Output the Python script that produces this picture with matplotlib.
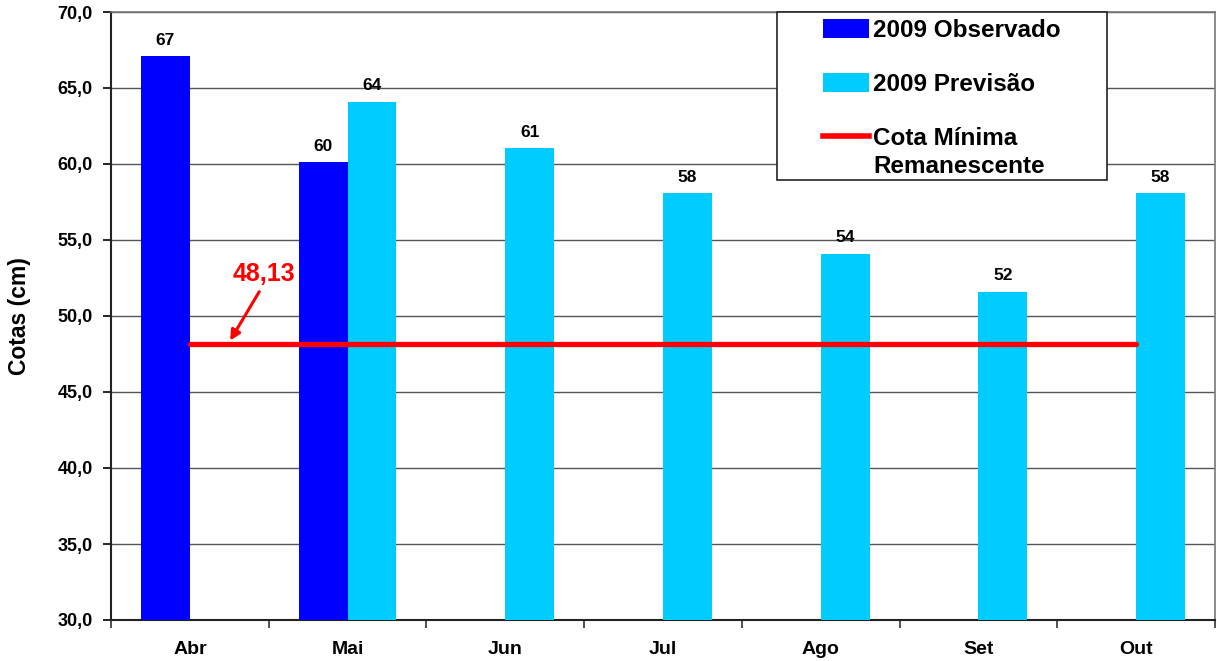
import matplotlib
matplotlib.use("Agg")
import matplotlib.pyplot as plt
from matplotlib.patches import Rectangle
from matplotlib.lines import Line2D
from matplotlib.patches import Patch

plt.rcParams['font.family'] = ['Liberation Sans', 'DejaVu Sans']
plt.rcParams['font.weight'] = 'bold'

months = ['Abr', 'Mai', 'Jun', 'Jul', 'Ago', 'Set', 'Out']
observado = [67.1, 60.1, None, None, None, None, None]
previsao = [None, 64.1, 61.05, 58.1, 54.1, 51.6, 58.1]
cota_minima = 48.13
yticks = [30, 35, 40, 45, 50, 55, 60, 65, 70]

c_obs = '#0000FF'
c_prev = '#00CCFF'
c_line = '#FF0000'

fig = plt.figure(figsize=(12.17, 6.61), dpi=100)
ax = fig.add_axes([111/1217, 1-620/661, 1104/1217, 608/661])

w = 0.31
x = list(range(len(months)))
for i in x:
    if observado[i] is not None:
        ax.bar(i - w/2, observado[i] - 30, width=w, bottom=30, color=c_obs, zorder=3)
        ax.text(i - w/2, observado[i] + 0.55, f"{observado[i]:.0f}", ha='center', va='bottom',
                fontsize=12.5, fontweight='bold')
    if previsao[i] is not None:
        ax.bar(i + w/2, previsao[i] - 30, width=w, bottom=30, color=c_prev, zorder=3)
        ax.text(i + w/2, previsao[i] + 0.55, f"{previsao[i]:.0f}", ha='center', va='bottom',
                fontsize=12.5, fontweight='bold')

ax.plot([x[0], x[-1]], [cota_minima, cota_minima], color=c_line, lw=3.8,
        solid_capstyle='round', zorder=4)

ax.text(0.47, 52.75, "48,13", ha='center', va='center', color=c_line, fontsize=18,
        fontweight='bold', zorder=5)
ax.annotate("", xy=(0.255, cota_minima + 0.25), xytext=(0.44, 51.6),
            arrowprops=dict(arrowstyle='-|>', color=c_line, lw=2.2, mutation_scale=15,
                            shrinkA=0, shrinkB=0), zorder=5)

ax.set_xlim(-0.5, len(months) - 0.5)
ax.set_ylim(30, 70)
ax.set_yticks(yticks)
ax.set_yticklabels([f"{v:.1f}".replace('.', ',') for v in yticks])
ax.yaxis.grid(True, color='#555555', lw=1, zorder=0)
ax.set_axisbelow(True)

ax.set_xticks([i - 0.5 for i in range(len(months) + 1)])
ax.set_xticklabels([])
ax.set_xticks(x, minor=True)
ax.set_xticklabels(months, minor=True)
ax.tick_params(axis='x', which='major', length=6, width=1.2, direction='out', color='#333333')
ax.tick_params(axis='x', which='minor', length=0, pad=15, labelsize=14)
ax.tick_params(axis='y', length=6, width=1.2, direction='out', labelsize=13, pad=7)

for s in ['left', 'bottom']:
    ax.spines[s].set_color('#222222')
    ax.spines[s].set_linewidth(1.5)
for s in ['top', 'right']:
    ax.spines[s].set_color('#777777')
    ax.spines[s].set_linewidth(1.2)

ax.set_ylabel("Cotas (cm)", fontsize=16.5, fontweight='bold')
ax.yaxis.set_label_coords(-0.0725, 0.5)

# legend frame
fig.patches.append(Rectangle((777/1217, 1-180/661), 330/1217, 168/661, transform=fig.transFigure,
                             facecolor='white', edgecolor='#222222', lw=1.2, zorder=10))

handles = [Patch(facecolor=c_obs), Patch(facecolor=c_prev), Line2D([], [], color=c_line, lw=4)]
labels = ['2009 Observado', '2009 Previsão', 'Cota Mínima']
leg = fig.legend(handles, labels, loc='upper left', bbox_to_anchor=(823/1217, 1-19/661),
                 bbox_transform=fig.transFigure, frameon=False, borderpad=0, borderaxespad=0,
                 prop=dict(size=17.5, weight='bold'), handlelength=1.9, handleheight=0.78,
                 handletextpad=0.16, labelspacing=1.27)
leg.set_zorder(11)

fig.canvas.draw()
t = leg.get_texts()[2]
bb = t.get_window_extent()
fig.text(bb.x0 / fig.bbox.width, (bb.y0 - 28) / fig.bbox.height, 'Remanescente',
         fontsize=17.5, fontweight='bold', ha='left', va='bottom', zorder=12)

fig.savefig("out.png", dpi=100)
